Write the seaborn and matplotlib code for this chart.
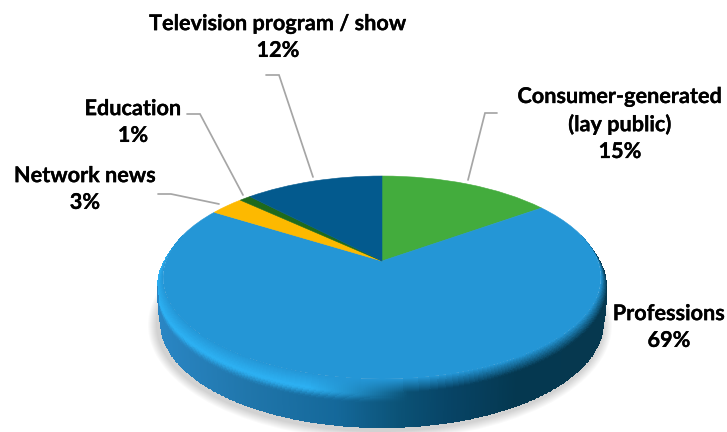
import numpy as np
import matplotlib
matplotlib.use("Agg")
import matplotlib.pyplot as plt
import matplotlib.patheffects as pe
from matplotlib.colors import to_rgb
from matplotlib.patches import Ellipse
from matplotlib.transforms import Transform
import seaborn as sns

# Survey shares, clockwise from twelve o'clock
categories = ["Consumer-generated\n(lay public)", "Professions", "Network news",
              "Education", "Television program / show"]
shares = [15, 69, 3, 1, 12]
slice_colors = ["#43ac3d", "#2496d6", "#fdb900", "#1f6a1c", "#035a8e"]

# Centre of each label block, in figure pixels
label_centers = [(620, 124), (669, 327), (85, 189), (133, 122), (278, 37)]
# Leader lines from label to disc edge, in figure pixels
leaders = [
    [(497, 113), (485, 113), (468, 180)],
    None,
    [(158, 194), (171, 194), (219, 204)],
    [(187, 114), (200, 114), (243, 195)],
    [(266, 75), (279, 75), (313, 177)],
]

CX, APEX_Y = 382.0, 261.0
TILT, SCALE_X, SCALE_Y = 0.1626, 216.0, 98.8


class TiltedDisc(Transform):
    """Perspective view of the unit disc, giving pixel coordinates."""
    input_dims = output_dims = 2
    is_affine = False

    def transform_non_affine(self, values):
        values = np.asarray(values, dtype=float)
        w = 1 + TILT * values[:, 1]
        return np.column_stack((CX + SCALE_X * values[:, 0] / w,
                                APEX_Y - SCALE_Y * values[:, 1] / w))

    def inverted(self):
        raise NotImplementedError


sns.set_theme(style="white")
plt.rcParams["font.family"] = ["Lato", "DejaVu Sans"]

fig = plt.figure(figsize=(7.27, 4.32), dpi=100, facecolor="white")
ax = fig.add_axes([0, 0, 1, 1])

palette = sns.color_palette(slice_colors)
wedges, _ = ax.pie(shares, colors=palette, startangle=90, counterclock=False,
                   wedgeprops=dict(linewidth=0.4, zorder=5))
disc = TiltedDisc() + ax.transData
for wedge in wedges:
    wedge.set_edgecolor(wedge.get_facecolor())
    wedge.set_transform(disc)

ax.set_aspect("auto")
ax.set_xlim(0, 727)
ax.set_ylim(432, 0)
ax.axis("off")

# Soft drop shadow under the drum
for grow in np.arange(9, 0, -1.0):
    ax.add_patch(Ellipse((CX - 2, 325), 2 * (223 + grow), 2 * (106 + grow),
                         facecolor="#000000", edgecolor="none", alpha=0.02, zorder=1))

# Bevel and side wall, shaded by position around the rim
angle = np.radians(np.linspace(-25, 205, 461))
blend = np.concatenate((np.linspace(0, 1, 15), np.linspace(1, 2, 31)[1:]))
A, V = np.meshgrid(angle, blend)
# The wall only shows on the near half; beyond it just the bevel remains
near_half = ((A >= 0) & (A <= np.pi)).astype(float)
face_x, face_y = CX + 219 * np.cos(A), 277.5 + 101.5 * np.sin(A)
rim_x, rim_y = CX + 225 * np.cos(A), 287 + 106 * np.sin(A)
foot_x = rim_x + (CX + 222 * np.cos(A) - rim_x) * near_half
foot_y = rim_y + 35 * near_half
X = np.where(V <= 1, face_x + (rim_x - face_x) * V, rim_x + (foot_x - rim_x) * (V - 1))
Y = np.where(V <= 1, face_y + (rim_y - face_y) * V, rim_y + (foot_y - rim_y) * (V - 1))

near = np.clip(V, 0, 1)[..., None]
far = np.clip(V - 1, 0, 1)[..., None]
A_c = 0.5 * (A[:-1, :-1] + A[1:, 1:])
near_c = 0.5 * (near[:-1, :-1] + near[1:, 1:])
far_c = 0.5 * (far[:-1, :-1] + far[1:, 1:])
pos = np.cos(A_c)
stops_x = [-1.0, -0.6, -0.2, 0.08, 0.3, 0.6, 1.0]
stops_c = [to_rgb(c) for c in ["#2a86c4", "#2076ab", "#14689a", "#0b5276",
                               "#074466", "#053850", "#06384f"]]
wall = np.stack([np.interp(pos, stops_x, [c[i] for c in stops_c]) for i in range(3)], axis=-1)
face_rgb = np.array(to_rgb(slice_colors[1]))
bright = np.array(to_rgb("#2cb0f2"))
glow = np.clip((0.12 - pos) / 0.45, 0, 1)[..., None]
rim_end = glow * bright + (1 - glow) * wall
rim_color = face_rgb + (rim_end - face_rgb) * near_c
settle = np.clip(far_c / 0.3, 0, 1)
settle = settle * settle * (3 - 2 * settle)
colors = rim_color + (wall - rim_color) * settle
ax.pcolormesh(X, Y, np.clip(colors, 0, 1), shading="flat", antialiased=False,
              linewidth=0, zorder=2)

# Labels and their leader lines
for name, share, center, leader in zip(categories, shares, label_centers, leaders):
    ax.text(center[0], center[1], f"{name}\n{share}%", ha="center", va="center",
            fontsize=15.6, fontweight="bold", color="black", linespacing=1.34, zorder=8,
            path_effects=[pe.withStroke(linewidth=0.2, foreground="black")])
    if leader is not None:
        xs, ys = zip(*leader)
        ax.plot(xs, ys, color="#a6a6a6", lw=1.25, solid_joinstyle="miter", zorder=7)

fig.savefig("out.png", dpi=100, facecolor="white")
